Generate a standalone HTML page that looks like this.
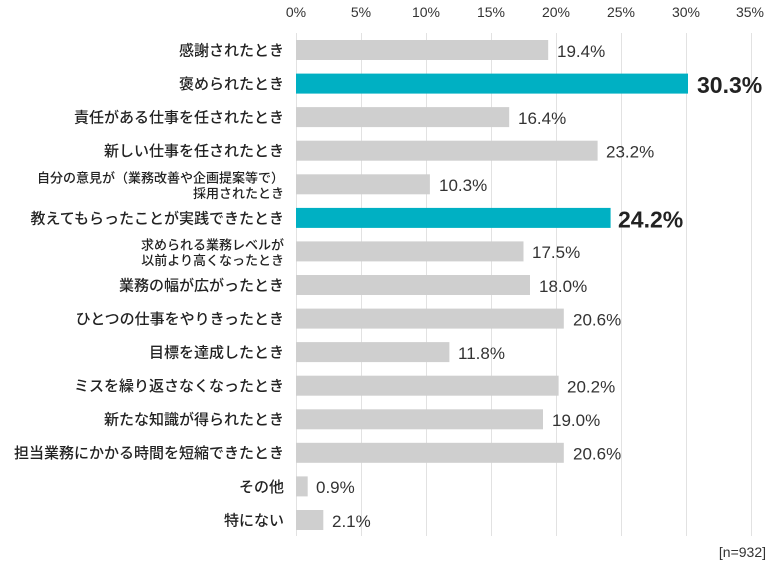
<!DOCTYPE html><html><head><meta charset="utf-8"><style>body{margin:0;background:#fff}svg{display:block}text{font-family:"Liberation Sans","Noto Sans CJK JP",sans-serif}</style></head><body>
<svg width="780" height="577" viewBox="0 0 780 577">
<g fill="#333" font-size="14" text-anchor="middle">
<text x="296" y="17">0%</text><text x="361" y="17">5%</text><text x="426" y="17">10%</text><text x="491" y="17">15%</text><text x="556" y="17">20%</text><text x="621" y="17">25%</text><text x="686" y="17">30%</text><text x="750" y="17">35%</text></g>
<g stroke="#e2e2e2" stroke-width="1"><line x1="296.5" y1="33" x2="296.5" y2="536"/><line x1="361.5" y1="33" x2="361.5" y2="536"/><line x1="426.5" y1="33" x2="426.5" y2="536"/><line x1="491.5" y1="33" x2="491.5" y2="536"/><line x1="556.5" y1="33" x2="556.5" y2="536"/><line x1="621.5" y1="33" x2="621.5" y2="536"/><line x1="686.5" y1="33" x2="686.5" y2="536"/><line x1="751.5" y1="33" x2="751.5" y2="536"/></g>
<g fill="#cfcfcf">
<rect x="296" y="40" width="252.2" height="20"/>
<rect x="296" y="73.6" width="392" height="20" fill="#00b0c3"/>
<rect x="296" y="107.1" width="213.2" height="20"/>
<rect x="296" y="140.7" width="301.6" height="20"/>
<rect x="296" y="174.3" width="133.9" height="20"/>
<rect x="296" y="207.9" width="314.6" height="20" fill="#00b0c3"/>
<rect x="296" y="241.4" width="227.5" height="20"/>
<rect x="296" y="275" width="234" height="20"/>
<rect x="296" y="308.6" width="267.8" height="20"/>
<rect x="296" y="342.1" width="153.4" height="20"/>
<rect x="296" y="375.7" width="262.6" height="20"/>
<rect x="296" y="409.3" width="247" height="20"/>
<rect x="296" y="442.8" width="267.8" height="20"/>
<rect x="296" y="476.4" width="11.7" height="20"/>
<rect x="296" y="510" width="27.3" height="20"/>
</g>
<g font-size="15" fill="#222" font-weight="500" text-anchor="end">
<text x="284" y="55.5">感謝されたとき</text>
<text x="284" y="89">褒められたとき</text>
<text x="284" y="122.5">責任がある仕事を任されたとき</text>
<text x="284" y="156">新しい仕事を任されたとき</text>
<text x="284" y="182.5" font-size="13">自分の意見が（業務改善や企画提案等で）</text>
<text x="284" y="198" font-size="13">採用されたとき</text>
<text x="284" y="223.3">教えてもらったことが実践できたとき</text>
<text x="284" y="249.5" font-size="13">求められる業務レベルが</text>
<text x="284" y="265" font-size="13">以前より高くなったとき</text>
<text x="284" y="290.5">業務の幅が広がったとき</text>
<text x="284" y="324">ひとつの仕事をやりきったとき</text>
<text x="284" y="357.5">目標を達成したとき</text>
<text x="284" y="391">ミスを繰り返さなくなったとき</text>
<text x="284" y="424.7">新たな知識が得られたとき</text>
<text x="284" y="458.2">担当業務にかかる時間を短縮できたとき</text>
<text x="284" y="491.8">その他</text>
<text x="284" y="525.4">特にない</text>
</g>
<g font-size="17" fill="#333">
<text x="557" y="57">19.4%</text>
<text x="697" y="93" font-size="23" font-weight="bold" fill="#222">30.3%</text>
<text x="518" y="124">16.4%</text>
<text x="606" y="157.5">23.2%</text>
<text x="439" y="191">10.3%</text>
<text x="618" y="227.5" font-size="23" font-weight="bold" fill="#222">24.2%</text>
<text x="532" y="258">17.5%</text>
<text x="539" y="292">18.0%</text>
<text x="573" y="325.5">20.6%</text>
<text x="458" y="359">11.8%</text>
<text x="567" y="392.5">20.2%</text>
<text x="552" y="426">19.0%</text>
<text x="573" y="459.5">20.6%</text>
<text x="316" y="493">0.9%</text>
<text x="332" y="527">2.1%</text>
</g>
<text x="766" y="557" font-size="14" fill="#333" text-anchor="end">[n=932]</text>
</svg></body></html>
